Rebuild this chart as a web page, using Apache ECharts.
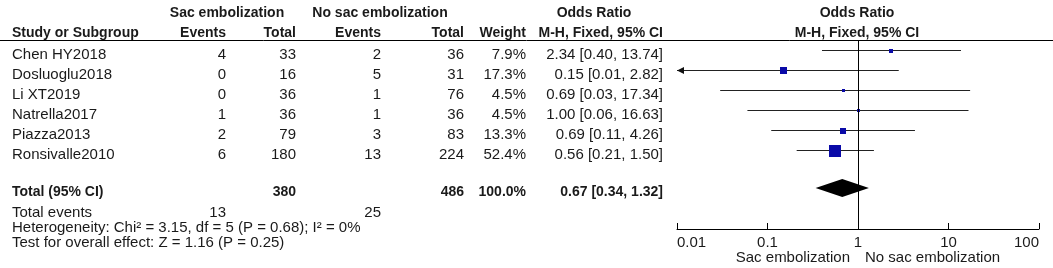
<!DOCTYPE html>
<html>
<head>
<meta charset="utf-8">
<script src="https://cdn.jsdelivr.net/npm/echarts@6/dist/echarts.min.js"></script>
<style>
  html, body { margin: 0; padding: 0; background: #fff; }
  #chart { width: 1053px; height: 268px; }
</style>
</head>
<body>
<div id="chart"></div>
<script>
const studies = ['Chen HY2018', 'Dosluoglu2018', 'Li XT2019', 'Natrella2017', 'Piazza2013', 'Ronsivalle2010']
const sacEvents = [4, 0, 0, 1, 2, 6]
const sacTotal = [33, 16, 36, 36, 79, 180]
const noSacEvents = [2, 5, 1, 1, 3, 13]
const noSacTotal = [36, 31, 76, 36, 83, 224]
const weights = [7.9, 17.3, 4.5, 4.5, 13.3, 52.4]
const oddsRatio = [2.34, 0.15, 0.69, 1.00, 0.69, 0.56]
const ciLow = [0.40, 0.01, 0.03, 0.06, 0.11, 0.21]
const ciHigh = [13.74, 2.82, 17.34, 16.63, 4.26, 1.50]
const pooled = [0.67, 0.34, 1.32] // OR, low, high
const pooledTotals = [380, 486]
const totalEvents = [13, 25]
const axisTicks = [0.01, 0.1, 1, 10, 100]

const FONT = '15px "Liberation Sans", Arial, sans-serif'
const BOLD = 'bold 14px "Liberation Sans", Arial, sans-serif'
const INK = '#1a1a1a'

const chart = echarts.init(document.getElementById('chart'))

// table texts
const graphic = []
function txt(text, x, y, align, font) {
  graphic.push({
    type: 'text',
    style: { text: String(text), x: x, y: y, textAlign: align, textVerticalAlign: 'middle', font: font || FONT, fill: INK }
  })
}
const colX = { study: 12, sacEv: 226, sacTot: 296, noEv: 381, noTot: 464, weight: 526, or: 663 }

// headers
txt('Sac embolization', 227, 13, 'center', BOLD)
txt('No sac embolization', 380, 13, 'center', BOLD)
txt('Odds Ratio', 594, 13, 'center', BOLD)
txt('Odds Ratio', 857, 13, 'center', BOLD)
txt('Study or Subgroup', colX.study, 33, 'left', BOLD)
txt('Events', colX.sacEv, 33, 'right', BOLD)
txt('Total', colX.sacTot, 33, 'right', BOLD)
txt('Events', colX.noEv, 33, 'right', BOLD)
txt('Total', colX.noTot, 33, 'right', BOLD)
txt('Weight', colX.weight, 33, 'right', BOLD)
txt('M-H, Fixed, 95% CI', colX.or, 33, 'right', BOLD)
txt('M-H, Fixed, 95% CI', 857, 33, 'center', BOLD)

const fmtCI = (o, l, h) => o.toFixed(2) + ' [' + l.toFixed(2) + ', ' + h.toFixed(2) + ']'

studies.forEach((s, i) => {
  const y = 55 + i * 20
  txt(s, colX.study, y, 'left')
  txt(sacEvents[i], colX.sacEv, y, 'right')
  txt(sacTotal[i], colX.sacTot, y, 'right')
  txt(noSacEvents[i], colX.noEv, y, 'right')
  txt(noSacTotal[i], colX.noTot, y, 'right')
  txt(weights[i].toFixed(1) + '%', colX.weight, y, 'right')
  txt(fmtCI(oddsRatio[i], ciLow[i], ciHigh[i]), colX.or, y, 'right')
})

txt('Total (95% CI)', colX.study, 192, 'left', BOLD)
txt(pooledTotals[0], colX.sacTot, 192, 'right', BOLD)
txt(pooledTotals[1], colX.noTot, 192, 'right', BOLD)
txt('100.0%', colX.weight, 192, 'right', BOLD)
txt(fmtCI(pooled[0], pooled[1], pooled[2]), colX.or, 192, 'right', BOLD)
txt('Total events', colX.study, 213, 'left')
txt(totalEvents[0], colX.sacEv, 213, 'right')
txt(totalEvents[1], colX.noEv, 213, 'right')
txt('Heterogeneity: Chi\u00b2 = 3.15, df = 5 (P = 0.68); I\u00b2 = 0%', colX.study, 228, 'left')
txt('Test for overall effect: Z = 1.16 (P = 0.25)', colX.study, 243, 'left')

txt('Sac embolization', 850, 258, 'right')
txt('No sac embolization', 865, 258, 'left')

graphic.push({
  type: 'line',
  shape: { x1: 0, y1: 40.5, x2: 1053, y2: 40.5 },
  style: { stroke: '#000', lineWidth: 1 }
})

const studyData = studies.map((s, i) => [oddsRatio[i], ciLow[i], ciHigh[i], i, weights[i]])

function renderStudy(params, api) {
  const or = api.value(0), lo = api.value(1), hi = api.value(2), row = api.value(3), w = api.value(4)
  const pLo = api.coord([lo, row])
  const pHi = api.coord([hi, row])
  const p = api.coord([or, row])
  const y = Math.round(p[1]) + 0.5
  const size = Math.round(1.6 * Math.sqrt(w))
  const children = [
    { type: 'line', shape: { x1: pLo[0], y1: y, x2: pHi[0], y2: y }, style: { stroke: '#222', lineWidth: 1 } },
    { type: 'rect', shape: { x: Math.round(p[0] - size / 2), y: Math.round(y - size / 2), width: size, height: size }, style: { fill: '#0a0aa8' } }
  ]
  if (lo <= axisTicks[0]) {
    children.push({
      type: 'polygon',
      shape: { points: [[pLo[0], y], [pLo[0] + 7, y - 3.5], [pLo[0] + 7, y + 3.5]] },
      style: { fill: '#111' }
    })
  }
  return { type: 'group', children: children }
}

function renderDiamond(params, api) {
  const c = api.coord([api.value(0), api.value(3)])
  const l = api.coord([api.value(1), api.value(3)])
  const r = api.coord([api.value(2), api.value(3)])
  return {
    type: 'polygon',
    shape: { points: [[l[0], c[1]], [c[0], c[1] - 9], [r[0], c[1]], [c[0], c[1] + 9]] },
    style: { fill: '#000' }
  }
}

chart.setOption({
  animation: false,
  graphic: graphic,
  grid: { left: 677, right: 14, top: 40, bottom: 39 },
  xAxis: {
    type: 'log',
    logBase: 10,
    position: 'bottom',
    min: axisTicks[0],
    max: axisTicks[axisTicks.length - 1],
    axisLine: { onZero: false, lineStyle: { color: '#000', width: 1 } },
    axisTick: { inside: true, length: 6, lineStyle: { color: '#000' } },
    splitLine: { show: false },
    axisLabel: {
      margin: 6,
      color: INK,
      fontSize: 15,
      fontFamily: '"Liberation Sans", Arial, sans-serif',
      alignMinLabel: 'left',
      alignMaxLabel: 'right',
      formatter: v => String(axisTicks.find(t => Math.abs(Math.log10(t) - Math.log10(v)) < 1e-6) ?? v)
    }
  },
  yAxis: {
    type: 'value',
    inverse: true,
    min: -0.5,
    max: 8.95,
    show: false
  },
  series: [
    {
      type: 'custom',
      renderItem: renderStudy,
      data: studyData,
      encode: { x: [0, 1, 2], y: 3 },
      markLine: {
        silent: true,
        symbol: 'none',
        label: { show: false },
        lineStyle: { color: '#000', width: 1, type: 'solid' },
        data: [{ xAxis: 1 }]
      }
    },
    {
      type: 'custom',
      renderItem: renderDiamond,
      data: [[pooled[0], pooled[1], pooled[2], 6.9]],
      encode: { x: [0, 1, 2], y: 3 }
    }
  ]
})
</script>
</body>
</html>
